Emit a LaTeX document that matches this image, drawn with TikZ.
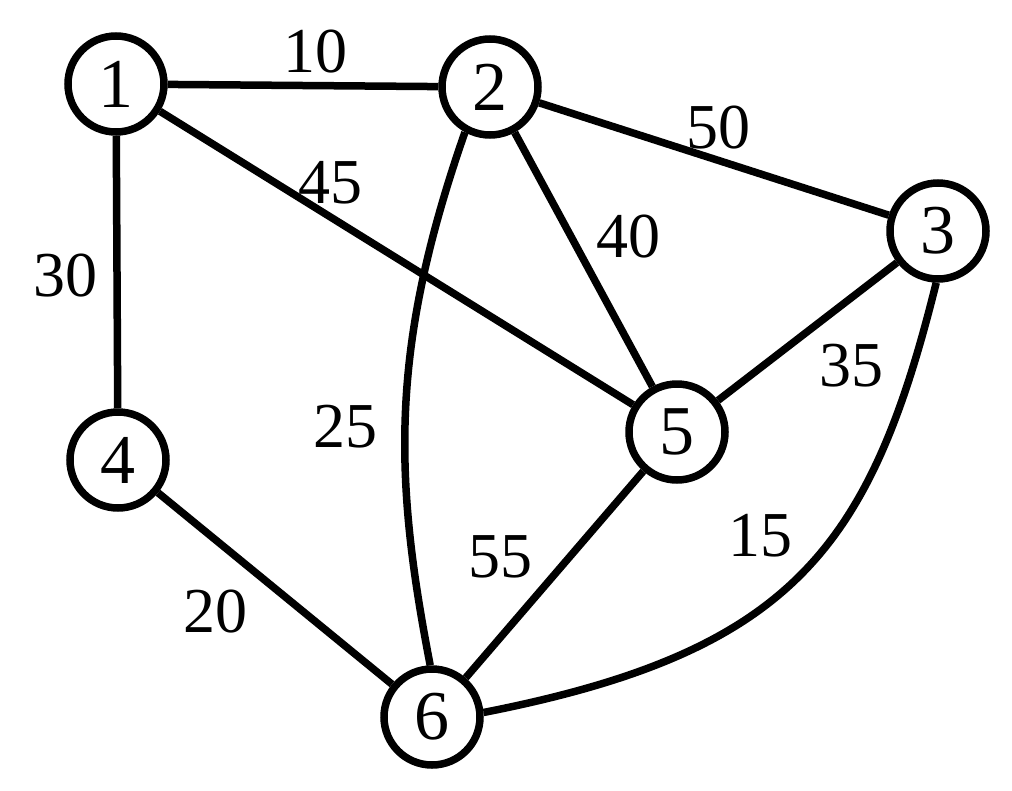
\documentclass[tikz,border=0pt]{standalone}
\usepackage{fontspec}
\setmainfont{Liberation Serif}
\begin{document}
\begin{tikzpicture}[x=1pt,y=-1pt,
  vertex/.style={circle,draw,line width=7.5pt,minimum size=96pt,inner sep=0pt,fill=white,font=\fontsize{70}{70}\selectfont},
  edge/.style={line width=7.5pt},
  wlabel/.style={inner sep=0pt,font=\fontsize{64}{64}\selectfont}]
\useasboundingbox (0,0) rectangle (1012,790);
\node[vertex] (n1) at (116,84) {1};
\node[vertex] (n2) at (490,87) {2};
\node[vertex] (n3) at (938,231) {3};
\node[vertex] (n4) at (118,460) {4};
\node[vertex] (n5) at (677,432) {5};
\node[vertex] (n6) at (432,717) {6};
\draw[edge] (n1) -- (n2);
\draw[edge] (n1) -- (n4);
\draw[edge] (n1) -- (n5);
\draw[edge] (n2) -- (n3);
\draw[edge] (n2) -- (n5);
\draw[edge] (n3) -- (n5);
\draw[edge] (n5) -- (n6);
\draw[edge] (n4) -- (n6);
\draw[edge] (n2.241) .. controls (389,350) and (394,478) .. (n6.92);
\draw[edge] (n3.268) .. controls (870,550) and (791,652) .. (n6.5);
\node[wlabel] (l12) at (315,52) {10};
\node[wlabel] (l23) at (718,128) {50};
\node[wlabel] (l15) at (330,183) {45};
\node[wlabel] (l25) at (628,237) {40};
\node[wlabel] (l14) at (66,276) {30};
\node[wlabel] (l35) at (851,366) {35};
\node[wlabel] (l36) at (760,536) {15};
\node[wlabel] (l26) at (345,427) {25};
\node[wlabel] (l56) at (500,557) {55};
\node[wlabel] (l46) at (215,612) {20};
\end{tikzpicture}
\end{document}
